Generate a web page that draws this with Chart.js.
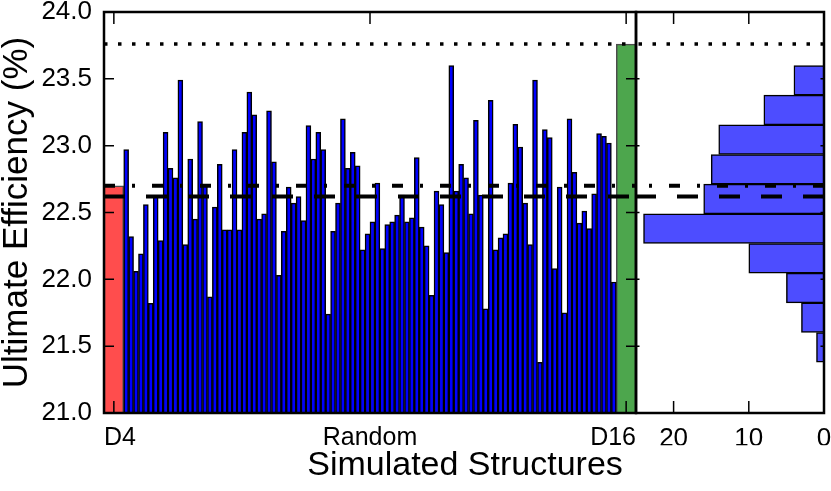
<!DOCTYPE html>
<html lang="en">
<head>
    <meta charset="UTF-8">
    <title>Ultimate Efficiency of Simulated Structures</title>
    <script src="https://cdn.jsdelivr.net/npm/chart.js"></script>
    <style>
        body { margin: 0; background: #fff; }
        #wrap { position: relative; width: 831px; height: 491px; overflow: hidden; }
        #mainChart, #histChart { position: absolute; left: 0; top: 0; }
    </style>
</head>
<body>
    <div id="wrap">
        <canvas id="mainChart" width="640" height="491"></canvas>
        <canvas id="histChart" width="831" height="491"></canvas>
    </div>

    <script>
        // Efficiencies of the 100 random structures (%)
        const randomEfficiency = [
            22.97, 22.32, 22.06, 22.19, 22.56, 21.82, 22.62, 22.29, 23.10, 22.83,
            22.76, 23.49, 22.26, 22.90, 22.45, 23.18, 22.71, 21.87, 22.54, 22.86,
            22.37, 22.37, 22.97, 22.37, 23.10, 23.40, 23.23, 22.45, 22.49, 23.26,
            22.88, 22.03, 22.36, 22.69, 22.57, 22.62, 22.44, 23.15, 22.90, 23.10,
            22.97, 21.74, 22.36, 22.57, 23.20, 22.83, 22.95, 22.85, 22.22, 22.34,
            22.43, 22.72, 22.23, 22.41, 22.43, 22.48, 22.63, 22.43, 22.46, 22.91,
            22.39, 22.25, 21.88, 22.66, 22.56, 22.20, 23.60, 22.66, 22.86, 22.76,
            22.49, 23.19, 22.63, 21.78, 23.34, 22.22, 22.31, 22.34, 22.72, 23.16,
            22.99, 22.57, 22.26, 23.49, 21.38, 23.12, 23.06, 22.08, 22.69, 21.75,
            23.20, 22.80, 22.42, 22.51, 22.38, 22.64, 23.09, 23.07, 23.02, 21.98
        ];

        // Reference structures
        const d4Efficiency = 22.70;
        const d16Efficiency = 23.76;
        const randomMean = 22.62;

        // Histogram of the random structures
        const histBinCenters = [21.491, 21.713, 21.935, 22.157, 22.379, 22.601, 22.823, 23.045, 23.267, 23.489];
        const histCounts = [1, 3, 5, 10, 24, 16, 15, 14, 8, 4];

        // Axes
        const yTickValues = [21.0, 21.5, 22.0, 22.5, 23.0, 23.5, 24.0];
        const xTickPositions = [0, 54, 108];
        const xTickLabels = ['D4', 'Random', 'D16'];
        const xTickMarks = [2, 54, 106];
        const histTickValues = [0, 10, 20];

        const FONT = "'Liberation Sans', Arial, Helvetica, sans-serif";
        const tickFont = { family: FONT, size: 26 };

        // slot layout on the main x axis: 4 units D4, 100 random, 4 units D16
        const refWidth = 4;
        const randomStart = 4;
        const xMax = 108;

        function unitsToPx(chart, n) {
            const s = chart.scales.x;
            if (!s) return 20;
            return Math.abs(s.getPixelForValue(n) - s.getPixelForValue(0));
        }

        function zeroPad(scale) {
            scale.paddingLeft = 0;
            scale.paddingRight = 0;
            scale.paddingTop = 0;
            scale.paddingBottom = 0;
        }

        // inward tick marks + black frame, drawn over the data
        const frameAndTicks = {
            id: 'frameAndTicks',
            afterDatasetsDraw(chart, args, opts) {
                const { ctx, chartArea: a, scales } = chart;
                ctx.save();
                ctx.strokeStyle = '#000';
                ctx.lineWidth = 1.5;
                ctx.beginPath();
                opts.yMarks.forEach(v => {
                    const py = scales.y.getPixelForValue(v);
                    ctx.moveTo(a.left, py); ctx.lineTo(a.left + opts.yLen, py);
                    ctx.moveTo(a.right, py); ctx.lineTo(a.right - opts.yLen, py);
                });
                opts.xMarks.forEach(v => {
                    const px = scales.x.getPixelForValue(v);
                    ctx.moveTo(px, a.bottom); ctx.lineTo(px, a.bottom - opts.xLen);
                    ctx.moveTo(px, a.top); ctx.lineTo(px, a.top + opts.xLen);
                });
                ctx.stroke();
                ctx.lineWidth = 2.5;
                ctx.strokeRect(a.left, a.top, a.right - a.left, a.bottom - a.top);
                ctx.restore();
            }
        };

        function hLine(value, x0, x1, dash, width) {
            return {
                type: 'line',
                data: [{ x: x0, y: value }, { x: x1, y: value }],
                borderColor: '#000',
                borderWidth: width,
                borderDash: dash,
                borderCapStyle: 'butt',
                pointRadius: 0,
                fill: false,
                order: 0
            };
        }

        // ---- main panel ----
        new Chart(document.getElementById('mainChart'), {
            data: {
                datasets: [
                    hLine(d16Efficiency, 0, xMax, [3.5, 10.5], 3.5),
                    hLine(d4Efficiency, 0, xMax, [11, 17, 3, 17], 4),
                    hLine(randomMean, 0, xMax, [21, 21], 4),
                    {
                        type: 'bar',
                        label: 'D4',
                        data: [{ x: refWidth / 2, y: d4Efficiency }],
                        backgroundColor: 'rgb(255,77,77)',
                        borderColor: 'rgba(0,0,0,0.7)',
                        borderWidth: 1.5,
                        barThickness: ctx => unitsToPx(ctx.chart, refWidth),
                        order: 1
                    },
                    {
                        type: 'bar',
                        label: 'Random',
                        data: randomEfficiency.map((v, i) => ({ x: randomStart + i + 0.5, y: v })),
                        backgroundColor: '#0000ff',
                        borderColor: '#000',
                        borderWidth: 1.5,
                        barPercentage: 1,
                        categoryPercentage: 1,
                        order: 1
                    },
                    {
                        type: 'bar',
                        label: 'D16',
                        data: [{ x: xMax - refWidth / 2, y: d16Efficiency }],
                        backgroundColor: 'rgb(77,166,77)',
                        borderColor: 'rgba(0,0,0,0.7)',
                        borderWidth: 1.5,
                        barThickness: ctx => unitsToPx(ctx.chart, refWidth),
                        order: 1
                    }
                ]
            },
            options: {
                responsive: false,
                animation: false,
                devicePixelRatio: 1,
                datasets: { bar: { grouped: false } },
                layout: { padding: { top: 12, right: 4, left: 0, bottom: 0 } },
                plugins: {
                    legend: { display: false },
                    tooltip: { enabled: false },
                    frameAndTicks: { yMarks: yTickValues, yLen: 10, xMarks: xTickMarks, xLen: 12 }
                },
                scales: {
                    x: {
                        type: 'linear',
                        min: 0,
                        max: xMax,
                        offset: false,
                        afterBuildTicks: s => { s.ticks = xTickPositions.map(v => ({ value: v })); },
                        afterFit: s => { s.height = 78; zeroPad(s); },
                        grid: { display: false, drawTicks: false, offset: false },
                        border: { display: false },
                        ticks: {
                            callback: (v, i) => xTickLabels[i],
                            align: 'inner',
                            autoSkip: false,
                            maxRotation: 0,
                            padding: 10,
                            color: '#000',
                            font: { family: FONT, size: 25 }
                        }
                    },
                    y: {
                        type: 'linear',
                        min: 21,
                        max: 24,
                        afterBuildTicks: s => { s.ticks = yTickValues.map(v => ({ value: v })); },
                        afterFit: s => { s.width = 104; zeroPad(s); },
                        grid: { display: false, drawTicks: false },
                        border: { display: false },
                        ticks: {
                            callback: v => v.toFixed(1),
                            padding: 12,
                            color: '#000',
                            font: tickFont
                        },
                        title: {
                            display: true,
                            text: 'Ultimate Efficiency (%)',
                            color: '#000',
                            font: { family: FONT, size: 35, lineHeight: 1 },
                            padding: 0
                        }
                    }
                }
            },
            plugins: [frameAndTicks]
        });

        // ---- histogram panel (also carries the shared x label, centred under both panels) ----
        new Chart(document.getElementById('histChart'), {
            data: {
                datasets: [
                    hLine(d16Efficiency, 0, 25, [3.5, 10.5], 3.5),
                    hLine(d4Efficiency, 0, 25, [11, 17, 3, 17], 4),
                    hLine(randomMean, 0, 25, [21, 21], 4),
                    {
                        type: 'bar',
                        indexAxis: 'y',
                        data: histCounts.map((c, i) => ({ x: c, y: histBinCenters[i] })),
                        backgroundColor: 'rgb(77,77,255)',
                        borderColor: '#000',
                        borderWidth: 1.5,
                        barPercentage: 1,
                        categoryPercentage: 1,
                        order: 1
                    }
                ]
            },
            options: {
                responsive: false,
                animation: false,
                devicePixelRatio: 1,
                layout: { padding: { top: 12, right: 7, left: 106, bottom: 0 } },
                plugins: {
                    legend: { display: false },
                    tooltip: { enabled: false },
                    title: {
                        display: true,
                        position: 'bottom',
                        text: 'Simulated Structures',
                        color: '#000',
                        font: { family: FONT, size: 34, weight: 'normal', lineHeight: 1.2 },
                        padding: { top: 0, bottom: 5 }
                    },
                    frameAndTicks: { yMarks: yTickValues, yLen: 3.5, xMarks: histTickValues, xLen: 12 }
                },
                scales: {
                    x: {
                        type: 'linear',
                        min: 0,
                        max: 25,
                        reverse: true,
                        offset: false,
                        afterBuildTicks: s => { s.ticks = histTickValues.map(v => ({ value: v })); },
                        afterFit: s => { s.height = 78 - (34 * 1.2 + 5); zeroPad(s); },
                        grid: { display: false, drawTicks: false },
                        border: { display: false },
                        ticks: {
                            maxRotation: 0,
                            padding: 10,
                            color: '#000',
                            font: tickFont
                        }
                    },
                    y: {
                        type: 'linear',
                        min: 21,
                        max: 24,
                        offset: false,
                        // empty left box so the panel starts where the main panel ends
                        afterFit: s => { s.width = 636 - 106; zeroPad(s); },
                        grid: { display: false, drawTicks: false },
                        border: { display: false },
                        ticks: { display: false }
                    }
                }
            },
            plugins: [frameAndTicks]
        });
    </script>
</body>
</html>
